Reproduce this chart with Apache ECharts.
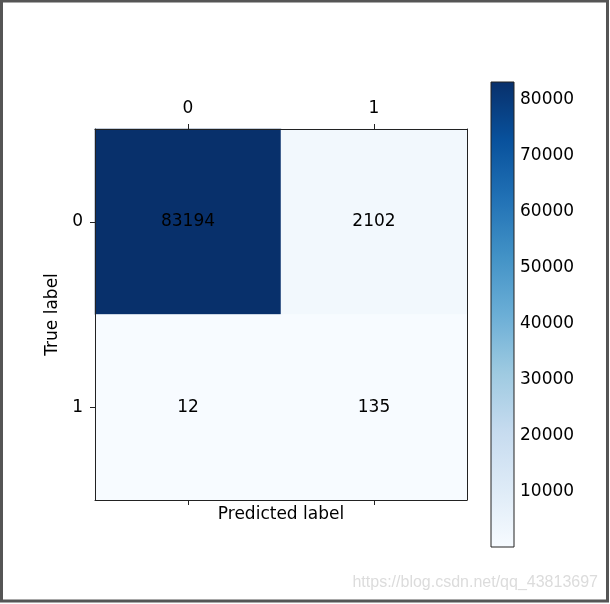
<!DOCTYPE html>
<html><head><meta charset="utf-8">
<script src="https://cdn.jsdelivr.net/npm/echarts@6/dist/echarts.min.js"></script>
<style>html,body{margin:0;padding:0;background:#fff}#c{width:610px;height:604px}</style>
</head><body><div id="c"></div>
<script>
const predLabels = ['0', '1'];
const trueLabels = ['0', '1'];
const row0 = [83194, 2102];
const row1 = [12, 135];
const colorbarTicks = [10000, 20000, 30000, 40000, 50000, 60000, 70000, 80000];
const watermark = 'https://blog.csdn.net/qq_43813697';

const blues = ['#f7fbff','#deebf7','#c6dbef','#9ecae1','#6baed6','#4292c6','#2171b5','#08519c','#08306b'];
const rows = [row0, row1];
const data = [];
rows.forEach((r, yi) => r.forEach((v, xi) => data.push([xi, yi, v])));
const all = row0.concat(row1);
const vmin = Math.min(...all), vmax = Math.max(...all);
const font = 'DejaVu Sans';
const fs = 17;
const lineC = '#222';

const chart = echarts.init(document.getElementById('c'));
chart.setOption({
  animation: false,
  textStyle: {fontFamily: font},
  graphic: [
    {type: 'rect', shape: {x: 1.5, y: 1, width: 606, height: 600}, style: {fill: 'none', stroke: '#555', lineWidth: 3}, silent: true},
    {type: 'text', right: 12, top: 575, style: {text: watermark, fill: '#dcdcdc', font: '16px "Liberation Sans"'}, z: 100}
  ],
  visualMap: {show: false, min: vmin, max: vmax, seriesIndex: 0, inRange: {color: blues}},
  grid: [
    {left: 95, top: 129, width: 372, height: 371},
    {left: 491, top: 82, width: 23, height: 465}
  ],
  xAxis: [
    {gridIndex: 0, type: 'category', data: predLabels, position: 'top', z: 10,
     axisLine: {lineStyle: {color: lineC}}, axisTick: {show: true, alignWithLabel: true, length: 5, lineStyle: {color: lineC}},
     axisLabel: {color: '#000', fontSize: fs, margin: 12}, splitLine: {show: false}},
    {gridIndex: 0, type: 'category', data: predLabels, position: 'bottom', z: 10,
     axisLine: {lineStyle: {color: lineC}}, axisTick: {show: true, alignWithLabel: true, length: 5, lineStyle: {color: lineC}},
     axisLabel: {show: false}, name: 'Predicted label', nameLocation: 'middle', nameGap: 6,
     nameTextStyle: {color: '#000', fontSize: fs, verticalAlign: 'top'}},
    {gridIndex: 1, type: 'value', min: 0, max: 1, show: false}
  ],
  yAxis: [
    {gridIndex: 0, type: 'category', data: trueLabels, inverse: true, position: 'left', z: 10,
     axisLine: {lineStyle: {color: lineC}}, axisTick: {show: true, alignWithLabel: true, length: 5, lineStyle: {color: lineC}},
     axisLabel: {color: '#000', fontSize: fs, margin: 12}, name: 'True label', nameLocation: 'middle', nameGap: 34,
     nameTextStyle: {color: '#000', fontSize: fs}},
    {gridIndex: 0, type: 'category', data: trueLabels, inverse: true, position: 'right', z: 10,
     axisLine: {lineStyle: {color: lineC}}, axisTick: {show: false}, axisLabel: {show: false}},
    {gridIndex: 1, type: 'value', min: vmin, max: vmax, position: 'right',
     axisLine: {show: false}, splitLine: {show: false},
     axisTick: {show: true, length: 5, customValues: colorbarTicks, lineStyle: {color: lineC}},
     axisLabel: {color: '#000', fontSize: fs, margin: 6, customValues: colorbarTicks, formatter: v => String(v)}}
  ],
  series: [
    {type: 'heatmap', xAxisIndex: 0, yAxisIndex: 0, data: data,
     label: {show: true, color: '#000', fontSize: fs, fontFamily: font},
     itemStyle: {borderWidth: 0}},
    {type: 'custom', xAxisIndex: 2, yAxisIndex: 2, data: [[0, vmin, vmax]], clip: false,
     renderItem: function (params, api) {
       const p1 = api.coord([0, api.value(2)]);
       const p2 = api.coord([1, api.value(1)]);
       return {type: 'rect', shape: {x: p1[0], y: p1[1], width: p2[0] - p1[0], height: p2[1] - p1[1]},
         style: {fill: new echarts.graphic.LinearGradient(0, 1, 0, 0, blues.map((c, i) => ({offset: i / (blues.length - 1), color: c}))),
                 stroke: lineC, lineWidth: 1}};
     }}
  ]
});
</script></body></html>
